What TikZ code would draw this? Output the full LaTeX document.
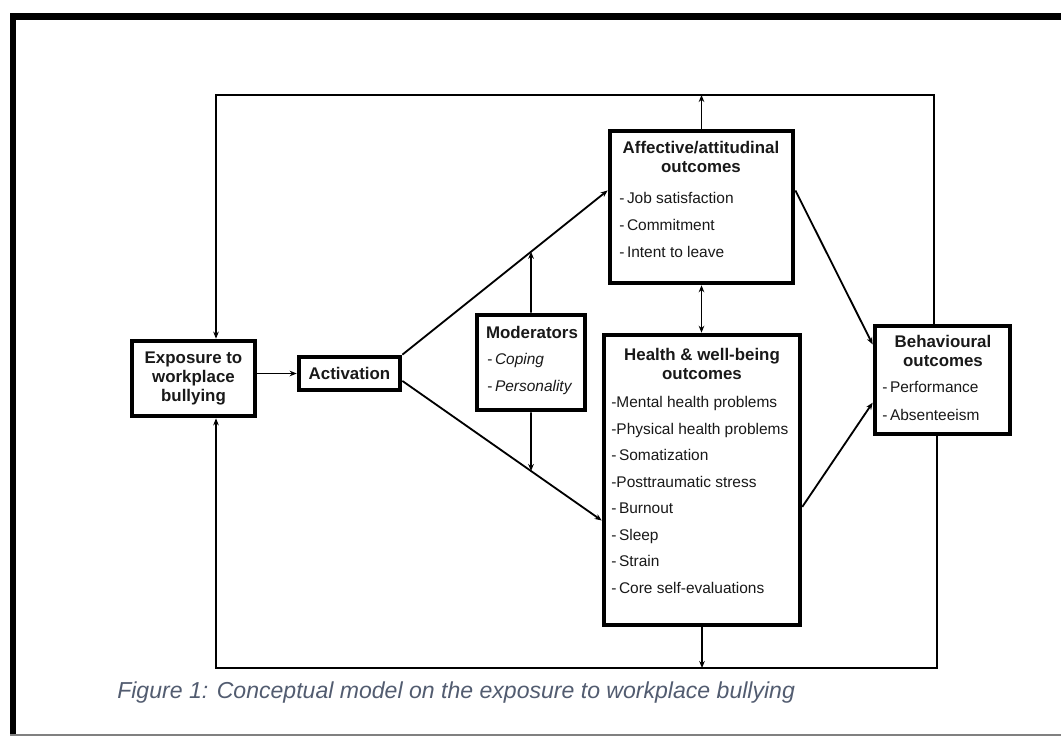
\documentclass[tikz,border=0pt]{standalone}
\usepackage{fontspec}
\setmainfont{Liberation Sans}
\usetikzlibrary{arrows.meta,positioning}
\definecolor{captxt}{RGB}{82,92,112}
\definecolor{boxtxt}{RGB}{25,25,25}

\begin{document}
	\begin{tikzpicture}[x=0.025cm, y=-0.025cm]
		\tikzstyle{every node}=[font=\fontsize{11pt}{19.5pt}\selectfont, text=boxtxt]
		\tikzset{
			box/.style={draw, line width=3.2pt, fill=white, inner sep=0pt},
			head/.style={font=\fontsize{12pt}{13pt}\selectfont\bfseries, align=center, inner sep=0pt},
			list/.style={align=left, inner sep=0pt, anchor=west},
			link/.style={line width=1.3pt, -{Stealth[length=5pt,width=4pt]}},
			backline/.style={line width=1.6pt, -{Stealth[length=5pt,width=4pt]}}
		}
		\useasboundingbox (0,0) rectangle (1061,736);
		% frame
		\fill (10,13) rectangle (1061,20);
		\fill (10,13) rectangle (16,736);
		\draw [gray, line width=0.8pt] (10,735) -- (1061,735);
		% boxes
		\node [box, minimum width=3.08cm, minimum height=1.88cm, font=\fontsize{12pt}{13.5pt}\selectfont\bfseries, align=center] (expo) at (193.5,378.5) {Exposure to\\workplace\\bullying};
		\node [box, minimum width=2.53cm, minimum height=0.83cm, font=\fontsize{12pt}{13.5pt}\selectfont\bfseries] (act) at (349.5,373.5) {Activation};
		\node [box, minimum width=4.58cm, minimum height=3.8cm] (aff) at (701.5,207) {};
		\node [head] (aff-t) at (701,157) {Affective/attitudinal\\outcomes};
		\node [list] (aff-l) at (619,225) {-\,Job satisfaction\\-\,Commitment\\-\,Intent to leave};
		\node [box, minimum width=2.7cm, minimum height=2.38cm] (mod) at (531,362.5) {};
		\node [head] (mod-t) at (532,332) {Moderators};
		\node [list] (mod-l) at (487,374) {-\,\textit{Coping}\\-\,\textit{Personality}};
		\node [box, minimum width=4.9cm, minimum height=7.25cm] (hea) at (702,480) {};
		\node [head] (hea-t) at (702,364) {Health \& well-being\\outcomes};
		\node [list, font=\fontsize{11pt}{18.9pt}\selectfont] (hea-l) at (611,495) {-Mental health problems\\-Physical health problems\\-\,Somatization\\-Posttraumatic stress\\-\,Burnout\\-\,Sleep\\-\,Strain\\-\,Core self-evaluations};
		\node [box, minimum width=3.38cm, minimum height=2.7cm] (beh) at (942.5,380) {};
		\node [head] (beh-t) at (943,351) {Behavioural\\outcomes};
		\node [list] (beh-l) at (882,401) {-\,Performance\\-\,Absenteeism};
		% caption
		\node [anchor=west, inner sep=0pt, text=captxt, font=\fontsize{16.4pt}{19pt}\selectfont\itshape] (cap) at (117,693) {Figure 1: Conceptual model on the exposure to workplace bullying};
		% corners of the feedback loop
		\coordinate (tl) at (216,95);
		\coordinate (tr) at (934,95);
		\coordinate (bl) at (216,668);
		\coordinate (br) at (937,668);
		\coordinate (a1) at (act.north east);
		\coordinate (a2) at (act.-8);
		\coordinate (f1) at (aff.170);
		\coordinate (h1) at (hea.202);
		\coordinate (m-up) at (intersection of a1--f1 and mod.north--mod.south);
		\coordinate (m-dn) at (intersection of a2--h1 and mod.north--mod.south);
		% connectors
		\draw [link] (expo.east |- act.west) -- (act.west);
		\draw [link] (a1) -- (f1);
		\draw [link] (a2) -- (h1);
		\draw [link] (mod.north) -- (m-up);
		\draw [link] (mod.south) -- (m-dn);
		\draw [link, {Stealth[length=5pt,width=4pt]}-{Stealth[length=5pt,width=4pt]}] (aff.south) -- (aff.south |- hea.north);
		\draw [link] (aff.10) -- (beh.153);
		\draw [link] (hea.-15) -- (beh.198);
		\draw [link] (aff.north) -- (aff.north |- tl);
		\draw [link] (hea.south) -- (hea.south |- bl);
		\draw [backline] (beh.north -| tr) -- (tr) -- (tl) -- (tl |- expo.north);
		\draw [backline] (beh.south -| br) -- (br) -- (bl) -- (bl |- expo.south);
	\end{tikzpicture}
\end{document}
